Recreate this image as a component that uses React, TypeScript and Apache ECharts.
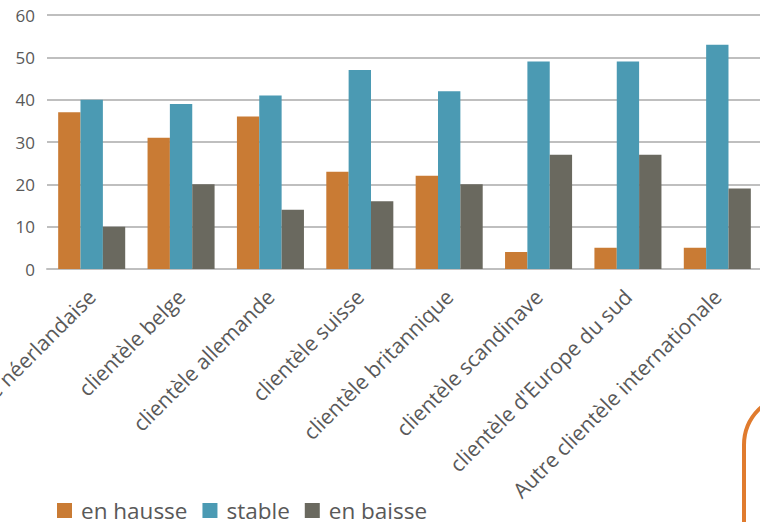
import React, { useEffect, useRef } from "react";
import * as echarts from "echarts";

const categories = [
  "clientèle néerlandaise",
  "clientèle belge",
  "clientèle allemande",
  "clientèle suisse",
  "clientèle britannique",
  "clientèle scandinave",
  "clientèle d'Europe du sud",
  "Autre clientèle internationale",
];
const enHausse = [37, 31, 36, 23, 22, 4, 5, 5];
const stable = [40, 39, 41, 47, 42, 49, 49, 53];
const enBaisse = [10, 20, 14, 16, 20, 27, 27, 19];
const seriesNames = ["en hausse", "stable", "en baisse"];

export default function App() {
  const ref = useRef<HTMLDivElement>(null);
  useEffect(() => {
    if (!ref.current) return;
    const chart = echarts.init(ref.current, undefined, { renderer: "svg" });
    const font = "'Open Sans', sans-serif";
    chart.setOption({
      animation: false,
      color: ["#C97B34", "#4B9AB3", "#6A695F"],
      grid: {
        left: 47,
        top: 15,
        width: 715,
        height: 254,
        containLabel: false,
        outerBoundsMode: "none",
      },
      legend: {
        left: 52,
        top: 494,
        itemWidth: 15,
        itemHeight: 15,
        itemGap: 15,
        icon: "rect",
        data: seriesNames,
        textStyle: { fontFamily: font, fontSize: 22.5, color: "#595959", padding: [0, 0, 0, 4] },
      },
      xAxis: {
        type: "category",
        data: categories,
        axisLine: { lineStyle: { color: "#BFBFBF", width: 2 } },
        axisTick: { show: false },
        axisLabel: {
          interval: 0,
          rotate: 45,
          margin: 24,
          fontFamily: font,
          fontSize: 21,
          color: "#595959",
        },
      },
      yAxis: {
        type: "value",
        min: 0,
        max: 60,
        interval: 10,
        axisLine: { show: false },
        axisTick: { show: false },
        splitLine: { lineStyle: { color: "#BFBFBF", width: 2 } },
        axisLabel: { fontFamily: font, fontSize: 17, color: "#595959", margin: 12 },
      },
      series: [
        { name: seriesNames[0], type: "bar", data: enHausse, barGap: "0%", barCategoryGap: "25%" },
        { name: seriesNames[1], type: "bar", data: stable, barGap: "0%", barCategoryGap: "25%" },
        { name: seriesNames[2], type: "bar", data: enBaisse, barGap: "0%", barCategoryGap: "25%" },
      ],
      graphic: [
        {
          type: "rect",
          shape: { x: 744, y: 395, width: 140, height: 220, r: 50 },
          style: { fill: "none", stroke: "#E07B2E", lineWidth: 4 },
          silent: true,
        },
      ],
    });
    return () => chart.dispose();
  }, []);
  return (
    <div
      ref={ref}
      style={{ position: "fixed", left: 0, top: 0, width: 760, height: 522, background: "#fff" }}
    />
  );
}
